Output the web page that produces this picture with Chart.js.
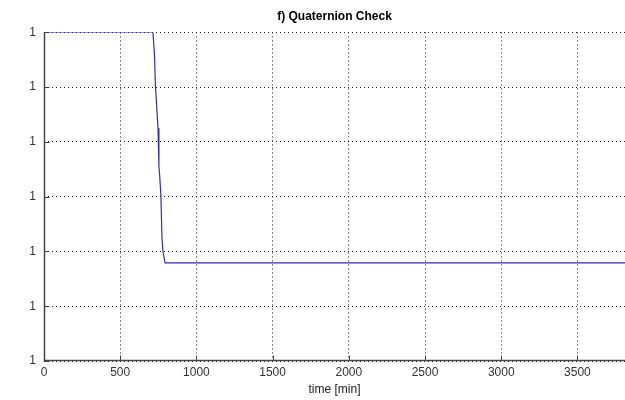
<!DOCTYPE html>
<html>
<head>
<meta charset="utf-8">
<script src="https://cdn.jsdelivr.net/npm/chart.js@4"></script>
<style>
  html, body { margin: 0; padding: 0; background: #fff; }
  #wrap { width: 625px; height: 400px; }
</style>
</head>
<body>
<div id="wrap"><canvas id="chart"></canvas></div>
<script>
// time in minutes
const timeMin = [0, 715, 725, 731, 748, 754, 761, 767, 774, 781, 794, 3812];
// quaternion norm, shown as grid steps above the bottom (all ticks read "1")
const normSteps = [6.0, 6.0, 5.58, 5.03, 4.25, 3.57, 3.30, 3.01, 2.24, 1.99, 1.79, 1.79];
const yTickLabels = ['1', '1', '1', '1', '1', '1', '1'];
const xTicks = [0, 500, 1000, 1500, 2000, 2500, 3000, 3500];

const points = timeMin.map((t, i) => ({ x: t, y: normSteps[i] }));

// solid left/bottom axes and small inward tick marks like matlab
const matlabAxes = {
    id: 'matlabAxes',
    afterDraw(chart) {
        const { ctx, chartArea, scales } = chart;
        const left = Math.round(chartArea.left) + 0.5;
        const bottom = Math.round(chartArea.bottom) - 0.5;
        ctx.save();
        ctx.setLineDash([]);
        ctx.strokeStyle = '#444';
        ctx.lineWidth = 1.5;
        ctx.beginPath();
        ctx.moveTo(left, chartArea.top);
        ctx.lineTo(left, bottom);
        ctx.lineTo(chartArea.right, bottom);
        ctx.stroke();
        ctx.lineWidth = 1;
        ctx.beginPath();
        scales.x.ticks.forEach(t => {
            const px = Math.round(scales.x.getPixelForValue(t.value)) + 0.5;
            ctx.moveTo(px, bottom);
            ctx.lineTo(px, bottom - 5);
        });
        scales.y.ticks.forEach(t => {
            const py = Math.round(scales.y.getPixelForValue(t.value)) + 0.5;
            ctx.moveTo(left, py);
            ctx.lineTo(left + 5, py);
        });
        ctx.stroke();
        ctx.restore();
    }
};

const ctx = document.getElementById('chart');

new Chart(ctx, {
    type: 'line',
    data: {
        datasets: [{
            data: points,
            borderColor: '#3030a8',
            borderWidth: 1.2,
            pointRadius: 0,
            tension: 0,
            fill: false
        }]
    },
    options: {
        responsive: true,
        maintainAspectRatio: false,
        animation: false,
        layout: { padding: { left: 0, right: 0, top: 0, bottom: 0 } },
        plugins: {
            legend: { display: false },
            tooltip: { enabled: false },
            title: {
                display: true,
                text: 'f) Quaternion Check',
                fullSize: false,
                color: '#000',
                font: { family: 'Liberation Sans, Arial', size: 12, weight: 'bold' },
                padding: { top: 9, bottom: 9 }
            }
        },
        scales: {
            x: {
                type: 'linear',
                min: 0,
                max: 3812,
                afterFit: s => { s.height = 39; },
                afterBuildTicks: s => { s.ticks = xTicks.map(v => ({ value: v })); },
                ticks: {
                    includeBounds: false,
                    autoSkip: false,
                    maxRotation: 0,
                    padding: 4,
                    color: '#333',
                    font: { family: 'Liberation Sans, Arial', size: 12 },
                    callback: v => String(v)
                },
                grid: {
                    color: '#222',
                    drawTicks: false
                },
                border: { display: false, dash: [1, 3] },
                title: {
                    display: true,
                    text: 'time [min]',
                    color: '#222',
                    font: { family: 'Liberation Sans, Arial', size: 12 },
                    padding: { top: 0, bottom: 3 }
                }
            },
            y: {
                min: 0,
                max: 6,
                afterFit: s => { s.width = 44; },
                ticks: {
                    stepSize: 1,
                    padding: 8,
                    color: '#333',
                    font: { family: 'Liberation Sans, Arial', size: 12 },
                    callback: (v, i) => yTickLabels[i]
                },
                grid: {
                    color: '#222',
                    drawTicks: false
                },
                border: { display: false, dash: [1, 3] }
            }
        }
    },
    plugins: [matlabAxes]
});
</script>
</body>
</html>
